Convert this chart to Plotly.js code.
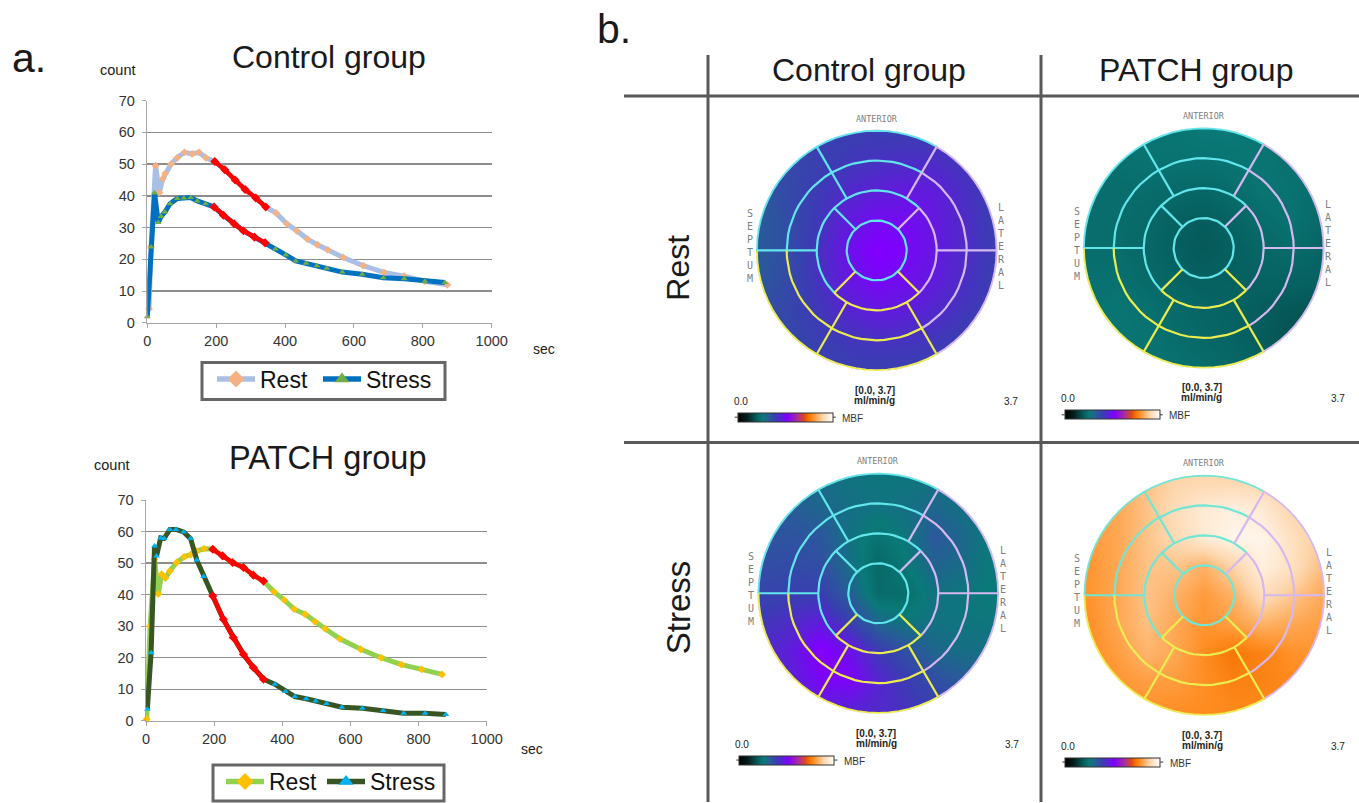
<!DOCTYPE html>
<html><head><meta charset="utf-8">
<script src="https://cdn.plot.ly/plotly-3.0.1.min.js"></script>
<style>html,body{margin:0;padding:0;background:#fff;overflow:hidden}#p{width:1359px;height:803px}</style>
</head><body><div id="p"></div>
<script>
// ---- time-activity curves (sec, count) ----
const ctrlRestX=[5,11,24,35,45,52,69,87,108,130,150,170,196,225,255,284,315,344,374,405,434,465,494,524,569,627,687,746,806,871];
const ctrlRestY=[4.4,24,49.5,41,45.4,47,50,52,53.7,53.2,53.7,52,50.8,48.2,45,42,39.3,36.5,34.6,31.2,29,26.4,24.6,23,20.6,18,15.9,14.7,13.1,12];
const ctrlStressX=[0,11,21,32,40,51,66,87,106,126,145,169,194,221,252,279,311,342,372,402,431,461,492,521,566,624,685,746,806,864];
const ctrlStressY=[1.9,23.9,40.9,31.6,33.5,34.9,37.5,39.2,39.3,39.5,38.4,37.5,36.5,33.9,31.2,29,27,25.2,23.3,21.4,19.5,18.8,18,17.2,16,15.3,14.2,13.9,13.1,12.7];
const patchRestX=[2,12,25,36,46,57,70,90,112,131,149,170,196,225,254,286,315,345,376,406,435,467,496,526,569,630,690,750,809,869];
const patchRestY=[0.5,30,51.2,40.2,46.5,45.3,47.5,50.2,52,52.7,53.8,54.6,54.4,52.3,50.2,48.6,46.2,44.3,40.9,38.3,35.4,33.8,31.4,29.2,26,22.7,20,17.8,16.3,14.7];
const patchStressX=[4,15,25,31,43,53,70,88,110,131,149,169,196,227,256,286,315,345,378,409,437,470,498,530,575,635,696,756,819,880];
const patchStressY=[3.7,21.6,55.4,52.3,58,57.8,60.7,60.7,59.9,57.8,51,45.8,39.6,32.2,26.4,21.1,16.9,13.2,11.6,9.3,7.7,7,6.3,5.5,4.3,4,3.3,2.4,2.4,2];
const axisTicksX=[0,200,400,600,800,1000];
const axisTicksY=[0,10,20,30,40,50,60,70];

// ---- polar-map MBF samples (ml/min/g), rows top to bottom, on an 11x11 grid ----
const gridPos=[-1.2,-0.96,-0.72,-0.48,-0.24,0,0.24,0.48,0.72,0.96,1.2];
const gridPosY=[1.2,0.96,0.72,0.48,0.24,0,-0.24,-0.48,-0.72,-0.96,-1.2];
const mbfControlRest=[
[1.4,1.4,1.42,1.46,1.46,1.46,1.46,1.46,1.46,1.46,1.46],
[1.35,1.35,1.4,1.44,1.46,1.48,1.48,1.48,1.46,1.46,1.46],
[1.3,1.3,1.38,1.45,1.52,1.57,1.6,1.6,1.52,1.46,1.46],
[1.25,1.25,1.38,1.5,1.63,1.7,1.75,1.72,1.58,1.46,1.46],
[1.2,1.22,1.35,1.53,1.73,1.85,1.85,1.75,1.6,1.46,1.46],
[1.2,1.22,1.36,1.56,1.8,1.95,1.88,1.75,1.6,1.48,1.46],
[1.2,1.25,1.38,1.56,1.76,1.88,1.82,1.72,1.58,1.46,1.46],
[1.25,1.3,1.4,1.52,1.66,1.75,1.72,1.63,1.52,1.46,1.46],
[1.3,1.35,1.4,1.46,1.52,1.57,1.56,1.52,1.46,1.46,1.46],
[1.35,1.38,1.4,1.43,1.46,1.46,1.46,1.46,1.46,1.46,1.46],
[1.38,1.4,1.4,1.43,1.46,1.46,1.46,1.46,1.46,1.46,1.46]];
const mbfPatchRest=[
[0.9,0.9,0.92,0.92,0.92,0.95,0.95,0.92,0.9,0.9,0.9],
[0.88,0.88,0.9,0.92,0.92,0.95,0.95,0.92,0.88,0.85,0.85],
[0.88,0.88,0.88,0.9,0.9,0.9,0.92,0.92,0.88,0.84,0.84],
[0.85,0.85,0.85,0.85,0.82,0.8,0.85,0.92,0.9,0.84,0.82],
[0.85,0.85,0.85,0.82,0.75,0.72,0.78,0.85,0.9,0.82,0.8],
[0.85,0.85,0.85,0.8,0.74,0.7,0.74,0.8,0.85,0.78,0.78],
[0.88,0.88,0.88,0.82,0.77,0.74,0.74,0.77,0.77,0.76,0.76],
[0.9,0.9,0.92,0.88,0.82,0.78,0.76,0.72,0.7,0.68,0.68],
[0.92,0.92,0.92,0.9,0.85,0.8,0.77,0.72,0.66,0.64,0.64],
[0.92,0.92,0.92,0.9,0.88,0.85,0.8,0.74,0.68,0.65,0.64],
[0.92,0.92,0.92,0.9,0.88,0.85,0.8,0.75,0.7,0.65,0.64]];
const mbfControlStress=[
[1.12,1.12,1.08,1.04,1.02,1.0,1.0,1.0,1.0,0.98,0.95],
[1.18,1.18,1.13,1.06,1.02,1.0,1.0,1.0,1.0,0.98,0.95],
[1.23,1.23,1.2,1.13,1.06,1.02,1.05,1.12,1.03,0.95,0.92],
[1.28,1.28,1.28,1.25,1.03,0.9,1.0,1.25,1.1,0.95,0.92],
[1.32,1.32,1.35,1.32,1.06,0.82,0.95,1.15,1.07,0.95,0.92],
[1.4,1.4,1.45,1.46,1.18,0.84,0.87,1.03,1.0,0.95,0.92],
[1.52,1.52,1.6,1.72,1.45,1.12,1.0,1.03,1.0,1.0,0.98],
[1.6,1.6,1.72,1.98,1.8,1.5,1.3,1.12,1.06,1.06,1.06],
[1.62,1.62,1.68,1.88,1.9,1.65,1.48,1.32,1.22,1.2,1.18],
[1.62,1.62,1.65,1.68,1.68,1.62,1.54,1.45,1.32,1.28,1.24],
[1.62,1.62,1.63,1.64,1.64,1.62,1.56,1.48,1.38,1.28,1.24]];
const mbfPatchStress=[
[3.1,3.1,3.15,3.25,3.3,3.3,3.3,3.3,3.25,3.2,3.2],
[3.05,3.05,3.1,3.2,3.3,3.33,3.33,3.33,3.28,3.2,3.15],
[3.0,3.0,3.05,3.2,3.38,3.5,3.55,3.5,3.32,3.2,3.15],
[2.98,2.98,3.05,3.2,3.35,3.5,3.6,3.6,3.42,3.25,3.15],
[2.95,2.95,3.05,3.2,3.2,3.1,3.3,3.55,3.42,3.18,3.1],
[2.95,2.95,3.05,3.2,3.1,2.98,3.1,3.38,3.22,3.08,3.02],
[2.92,2.92,3.05,3.18,3.05,2.95,3.0,3.1,3.05,3.0,2.98],
[2.9,2.9,3.0,3.12,3.05,2.9,2.78,2.84,2.93,2.95,2.95],
[2.9,2.9,2.95,3.0,2.98,2.92,2.84,2.85,2.88,2.9,2.9],
[2.9,2.9,2.92,2.92,2.92,2.9,2.88,2.88,2.88,2.9,2.9],
[2.9,2.9,2.9,2.9,2.9,2.9,2.9,2.9,2.9,2.9,2.9]];
const mbfColorscale=[[0,'#000000'],[0.1,'#04201f'],[0.2,'#066060'],[0.26,'#0a7a78'],[0.33,'#2a5a9a'],[0.4,'#3c3cb4'],[0.52,'#8000ff'],[0.63,'#a8309a'],[0.7,'#e04818'],[0.74,'#f47000'],[0.784,'#ff8c20'],[0.89,'#fdd4a8'],[0.96,'#fff0e0'],[1,'#ffffff']];

const W=1359,H=803,FONT='"Liberation Sans", Arial, sans-serif';
const px=x=>x/W, py=y=>1-y/H;
const traces=[], annotations=[], shapes=[];
const layout={width:W,height:H,margin:{l:0,r:0,t:0,b:0},paper_bgcolor:'#fff',plot_bgcolor:'rgba(0,0,0,0)',showlegend:true,hovermode:false};
const ann=(x,y,text,size,o={})=>annotations.push(Object.assign({xref:'paper',yref:'paper',x:px(x),y:py(y),text,showarrow:false,xanchor:'center',yanchor:'middle',font:{family:FONT,size,color:o.color||'#1a1a1a'}},o.extra||{}));

// ---- line charts ----
function lineChart(n,x0,x1,y70,y0,series){
  const ax='x'+(n===1?'':n), ay='y'+(n===1?'':n);
  const common={tickfont:{family:FONT,size:14.5,color:'#333'},fixedrange:true,showline:true,linecolor:'#a6a6a6',linewidth:1.5,ticks:'outside',ticklen:4,tickcolor:'#a6a6a6',zeroline:false};
  layout['xaxis'+(n===1?'':n)]=Object.assign({},common,{domain:[px(x0),px(x1)],range:[0,1000],tickmode:'array',tickvals:axisTicksX,showgrid:false,anchor:ay});
  layout['yaxis'+(n===1?'':n)]=Object.assign({},common,{domain:[py(y0),py(y70)],range:[0,70],tickmode:'array',tickvals:axisTicksY,showgrid:true,gridcolor:'#8c8c8c',gridwidth:1.4,anchor:ax,ticklabelstandoff:4});
  series.forEach(s=>{
    traces.push({type:'scatter',mode:'lines+markers',x:s.x,y:s.y,xaxis:ax,yaxis:ay,showlegend:false,cliponaxis:false,
      line:{color:s.line,width:5},marker:{symbol:s.symbol,color:s.marker,size:s.msize}});
    // legend-key entry only: larger symbol, no points of its own
    traces.push({type:'scatter',mode:'lines+markers',name:s.name,x:[null],y:[null],xaxis:ax,yaxis:ay,legend:s.legend,
      line:{color:s.line,width:5.5},marker:{symbol:s.symbol,color:s.marker,size:13}});
  });
  series.forEach(s=>{
    const idx=s.x.map((v,i)=>i).filter(i=>s.x[i]>=190&&s.x[i]<=350);
    traces.push({type:'scatter',mode:'lines+markers',x:idx.map(i=>s.x[i]),y:idx.map(i=>s.y[i]),xaxis:ax,yaxis:ay,showlegend:false,
      line:{color:'#ff0000',width:4.5},marker:{symbol:'diamond',color:'#ff0000',size:7}});
  });
}
lineChart(1,147.3,491.7,100.7,323.3,[
  {name:'Rest',x:ctrlRestX,y:ctrlRestY,line:'#a9bfe6',marker:'#f4b183',symbol:'diamond',msize:6,legend:'legend'},
  {name:'Stress',x:ctrlStressX,y:ctrlStressY,line:'#0070c0',marker:'#70ad47',symbol:'triangle-up',msize:6,legend:'legend2'}]);
lineChart(2,146,486.7,500.7,721.7,[
  {name:'Rest',x:patchRestX,y:patchRestY,line:'#92d050',marker:'#ffc000',symbol:'diamond',msize:6,legend:'legend3'},
  {name:'Stress',x:patchStressX,y:patchStressY,line:'#375623',marker:'#00b0f0',symbol:'triangle-up',msize:6,legend:'legend4'}]);
const legendBase={orientation:'h',bgcolor:'rgba(0,0,0,0)',borderwidth:0,font:{family:FONT,size:23,color:'#111'},xanchor:'left',yanchor:'middle',itemwidth:38,tracegroupgap:0};
layout.legend=Object.assign({},legendBase,{x:px(212),y:py(379)});
layout.legend2=Object.assign({},legendBase,{x:px(318),y:py(379)});
layout.legend3=Object.assign({},legendBase,{x:px(221),y:py(782)});
layout.legend4=Object.assign({},legendBase,{x:px(322),y:py(782)});
[[202,363,445,400],[213,766,444,802]].forEach(b=>shapes.push({type:'rect',xref:'paper',yref:'paper',x0:px(b[0]),y0:py(b[1]),x1:px(b[2]),y1:py(b[3]),line:{color:'#666',width:3},fillcolor:'rgba(0,0,0,0)'}));

// ---- polar maps ----
const CYAN='#62e6ec',LILAC='#d6b8f0',YEL='#ecec50',R=120,PAD=1.02;
const ringR=[0.25,0.5,0.75,1];
function arc(r,a0,a1){const o=[];for(let a=a0;a>=a1-0.01;a-=5){o.push([r*Math.cos(a*Math.PI/180),r*Math.sin(a*Math.PI/180)]);}return o;}
function spoke(a,r0,r1){const c=Math.cos(a*Math.PI/180),s=Math.sin(a*Math.PI/180);return [[r0*c,r0*s],[r1*c,r1*s]];}
function polarMap(n,cx,cy,z,cyan){
  const ax='x'+n,ay='y'+n;
  layout['xaxis'+n]={domain:[px(cx-R*PAD),px(cx+R*PAD)],range:[-PAD,PAD],visible:false,fixedrange:true,anchor:ay};
  layout['yaxis'+n]={domain:[py(cy+R*PAD),py(cy-R*PAD)],range:[-PAD,PAD],visible:false,fixedrange:true,anchor:ax};
  traces.push({type:'heatmap',x:gridPos,y:gridPosY,z,xaxis:ax,yaxis:ay,zsmooth:'best',zmin:0,zmax:3.7,colorscale:mbfColorscale,showlegend:false,
    colorbar:{orientation:'h',xref:'paper',yref:'paper',x:px(cx-139),xanchor:'left',y:py(cy+162),yanchor:'top',len:95,lenmode:'pixels',thickness:9,thicknessmode:'pixels',xpad:0,ypad:0,outlinecolor:'#333',outlinewidth:1,ticks:'',showticklabels:false,borderwidth:0}});
  // white mask outside the disc, in paper space so it also covers the image edge
  const M=R*1.05, pt=(a,b)=>px(cx+a).toFixed(5)+','+py(cy-b).toFixed(5);
  const sq=`M${pt(-M,-M)}L${pt(M,-M)}L${pt(M,M)}L${pt(-M,M)}Z`;
  const circ=arc(R*1.006,360,0).map((p,i)=>(i?'L':'M')+pt(p[0],p[1])).join('')+'Z';
  shapes.push({type:'path',xref:'paper',yref:'paper',path:sq+circ,fillcolor:'#fff',line:{width:0},layer:'above'});
  [[cx-142,cx-139],[cx-44,cx-41]].forEach(t=>shapes.push({type:'line',xref:'paper',yref:'paper',x0:px(t[0]),x1:px(t[1]),y0:py(cy+167),y1:py(cy+167),line:{color:'#333',width:1}}));
  const groups=[
    [cyan,[arc(ringR[0],360,0),arc(ringR[3],180,60),arc(ringR[2],180,60),arc(ringR[1],225,45),spoke(180,ringR[1],ringR[3]),spoke(120,ringR[1],ringR[3]),spoke(135,ringR[0],ringR[1])]],
    [LILAC,[arc(ringR[3],60,-60),arc(ringR[2],60,-60),arc(ringR[1],45,-45),spoke(60,ringR[1],ringR[3]),spoke(0,ringR[1],ringR[3]),spoke(45,ringR[0],ringR[1])]],
    [YEL,[arc(ringR[3],-60,-180),arc(ringR[2],-60,-180),arc(ringR[1],-45,-135),spoke(-60,ringR[1],ringR[3]),spoke(-120,ringR[1],ringR[3]),spoke(-45,ringR[0],ringR[1]),spoke(-135,ringR[0],ringR[1])]]
  ];
  groups.forEach(([col,segs])=>{
    const xs=[],ys=[];segs.forEach(s=>{s.forEach(p=>{xs.push(p[0]);ys.push(p[1]);});xs.push(null);ys.push(null);});
    traces.push({type:'scatter',mode:'lines',x:xs,y:ys,xaxis:ax,yaxis:ay,showlegend:false,line:{color:col,width:2.2}});
  });
  const mono='"DejaVu Sans Mono", monospace';
  const small=(x,y,t,size,color,family)=>annotations.push({xref:'paper',yref:'paper',x:px(x),y:py(y),text:t,showarrow:false,xanchor:'center',yanchor:'middle',font:{family:family||FONT,size,color}});
  small(cx,cy-132,'ANTERIOR',8.5,'#7f7f7f',mono);
  small(cx-127,cy-4,'S<br>E<br>P<br>T<br>U<br>M',10,'#7f7f7f',mono);
  small(cx+125,cy-4,'L<br>A<br>T<br>E<br>R<br>A<br>L',10,'#7f7f7f',mono);
  small(cx-2,cy+140,'<b>[0.0, 3.7]</b>',10,'#222');
  small(cx-2,cy+150,'<b>ml/min/g</b>',10,'#222');
  small(cx-136,cy+151,'0.0',10,'#222');
  small(cx+134,cy+151,'3.7',10,'#222');
  small(cx-24,cy+168,'MBF',10,'#333');
}
polarMap(3,876.7,250.7,mbfControlRest,CYAN);
polarMap(4,1203.7,248.3,mbfPatchRest,CYAN);
polarMap(5,878.3,594,mbfControlStress,CYAN);
polarMap(6,1204.3,596,mbfPatchStress,'#72e6d4');

// ---- panel frame ----
[[708,55,708,803],[1041,55,1041,803],[624,96,1359,96],[624,443,1359,443]].forEach(l=>shapes.push({type:'line',xref:'paper',yref:'paper',x0:px(l[0]),y0:py(l[1]),x1:px(l[2]),y1:py(l[3]),line:{color:'#595959',width:3}}));

// ---- text ----
ann(29,58,'a.',41);
ann(614,29,'b.',41);
ann(329,57,'Control group',32);
ann(327,459,'PATCH group',32.5);
ann(118,70,'count',14.5);
ann(111,466,'count',14.5);
ann(544,349,'sec',14);
ann(532,750,'sec',14);
ann(869,70,'Control group',32);
ann(1196,70,'PATCH group',32);
ann(678,268,'Rest',32,{extra:{textangle:-90}});
ann(678,608,'Stress',33,{extra:{textangle:-90}});

layout.annotations=annotations;layout.shapes=shapes;
Plotly.newPlot('p',traces,layout,{staticPlot:true,displayModeBar:false});
</script></body></html>
